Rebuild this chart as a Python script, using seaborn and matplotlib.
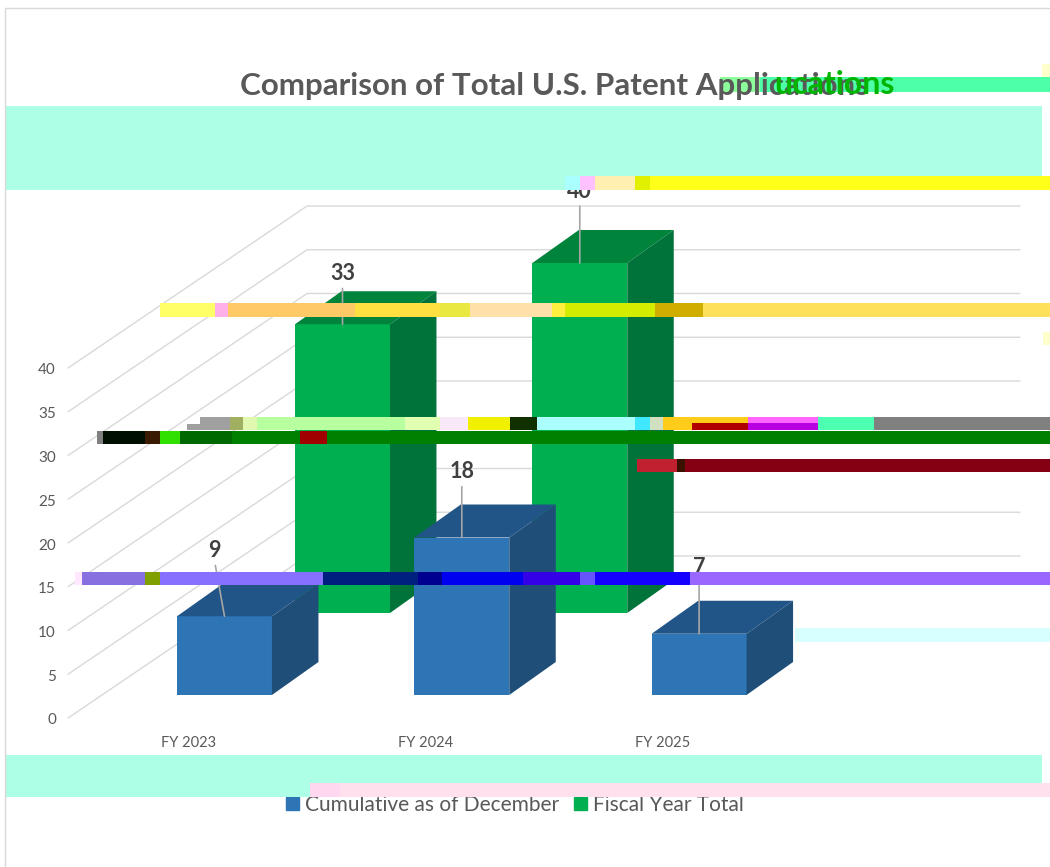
import matplotlib
matplotlib.use('Agg')
import matplotlib.pyplot as plt
from matplotlib.patches import Patch, Polygon, Rectangle
import pandas as pd
import seaborn as sns

years = ['FY 2023', 'FY 2024', 'FY 2025']
cumulative = [9, 18, 7]
fiscal_total = [33, 40]
fiscal_years = ['FY 2023', 'FY 2024']
value_ticks = [0, 5, 10, 15, 20, 25, 30, 35, 40]

W, H = 1050, 867
CAT_PX = 237.3   # px between categories
VAL_PX = 8.75    # px per unit
DEPTH_X, DEPTH_Y = 46.5, 33

# scrambled bands across the page: x0, x1, y0, y1, colour
bands = [
    (5, 1042, 106, 190, '#ADFFE6'),
    (1042, 1050, 64, 77, '#FFFFCC'), (1043, 1050, 332, 345, '#FFFFCC'),
    (720, 760, 77, 92, '#8CFF9A'), (760, 1050, 77, 92, '#4DFFA6'),
    (565, 580, 176, 190, '#AAFFFF'), (580, 595, 176, 190, '#FFC0FF'), (595, 635, 176, 190, '#FFEFB0'),
    (635, 650, 176, 190, '#E0F000'), (650, 1050, 176, 190, '#FFFF1A'),
    (160, 215, 303, 317, '#FFFF66'), (215, 228, 303, 317, '#FFB0E8'), (228, 355, 303, 317, '#FFC966'),
    (355, 440, 303, 317, '#FFE040'), (440, 470, 303, 317, '#E8E840'), (470, 552, 303, 317, '#FFE0A8'),
    (552, 565, 303, 317, '#FFF040'), (565, 655, 303, 317, '#D4EC00'), (655, 703, 303, 317, '#CFAE00'),
    (703, 1050, 303, 317, '#FFE05A'),
    (187, 200, 424, 430, '#A0A0A0'), (200, 230, 417, 430, '#A0A0A0'), (230, 243, 417, 430, '#A0B060'),
    (243, 257, 417, 430, '#E0F8B0'), (257, 405, 417, 430, '#B8FFA0'), (405, 440, 417, 430, '#E0FFB0'),
    (440, 468, 417, 430, '#F8E8F8'), (468, 510, 417, 430, '#F0F000'), (510, 537, 417, 430, '#103000'),
    (537, 635, 417, 430, '#AAFFFF'), (635, 650, 417, 430, '#40E8FF'), (650, 663, 417, 430, '#D0E0C0'),
    (663, 748, 417, 430, '#FFCC1A'), (692, 748, 423, 430, '#B00000'), (748, 818, 417, 430, '#FF66FF'),
    (748, 818, 423, 430, '#B800E0'), (818, 874, 417, 430, '#4DFFB0'), (874, 1050, 417, 430, '#808080'),
    (97, 105, 431, 444, '#808080'), (103, 145, 431, 444, '#001000'), (145, 160, 431, 444, '#3A1A00'),
    (160, 180, 431, 444, '#30E000'), (180, 232, 431, 444, '#006800'), (232, 1050, 431, 444, '#008000'),
    (300, 327, 431, 444, '#A00000'),
    (637, 677, 459, 472, '#C02030'), (677, 685, 459, 472, '#3A1000'), (685, 1050, 459, 472, '#850012'),
    (75, 90, 572, 585, '#FFE8FF'), (82, 145, 572, 585, '#8870E0'), (145, 160, 572, 585, '#80A000'),
    (160, 323, 572, 585, '#8870FF'), (323, 418, 572, 585, '#002080'), (418, 442, 572, 585, '#000090'),
    (442, 523, 572, 585, '#0000F0'), (523, 580, 572, 585, '#3300E8'), (580, 595, 572, 585, '#6655FF'),
    (595, 690, 572, 585, '#1500FF'), (690, 1050, 572, 585, '#9966FF'),
    (795, 1050, 628, 642, '#D8FFFF'),
    (5, 1042, 755, 783, '#ADFFE6'), (5, 310, 783, 797, '#ADFFE6'), (310, 340, 783, 797, '#FFD8F0'),
    (340, 1050, 783, 797, '#FFE0EC'),
]

sns.set_theme(style='white')
plt.rcParams['font.family'] = ['Lato', 'DejaVu Sans']

fig = plt.figure(figsize=(W / 100, H / 100), dpi=100)


def layer(x0, y0):
    """full page axes: category 0 centred on x0, value 0 on y0"""
    ax = fig.add_axes([0, 0, 1, 1])
    ax.patch.set_alpha(0)
    ax.set_axis_off()
    return ax, ((0 - x0) / CAT_PX, (W - x0) / CAT_PX), ((y0 - H) / VAL_PX, y0 / VAL_PX)


def fix_limits(ax, xlim, ylim):
    ax.set_xlim(*xlim)
    ax.set_ylim(*ylim)


def draw_bars(ax, cats, values, front, top, side, z):
    data = pd.DataFrame({'year': cats, 'value': values})
    sns.barplot(data=data, x='year', y='value', color=front, saturation=1, width=0.4, linewidth=0, ax=ax, zorder=z)
    ax.set_axis_off()
    dx = DEPTH_X / CAT_PX
    dy = DEPTH_Y / VAL_PX
    for bar in list(ax.patches):
        x0, x1 = bar.get_x(), bar.get_x() + bar.get_width()
        v = bar.get_height()
        ax.add_patch(Polygon([(x0, v), (x1, v), (x1 + dx, v + dy), (x0 + dx, v + dy)], color=top, lw=0, zorder=z))
        ax.add_patch(Polygon([(x1, 0), (x1 + dx, dy), (x1 + dx, v + dy), (x1, v)], color=side, lw=0, zorder=z))


# walls and floor
wall, xlim, ylim = layer(224.5, 718)
fix_limits(wall, xlim, ylim)
left = (68 - 224.5) / CAT_PX
corner = (307 - 224.5) / CAT_PX
end = (1020 - 224.5) / CAT_PX
rise = (718 - 556) / VAL_PX
for v in value_ticks:
    wall.plot([left, corner, end], [v, v + rise, v + rise], color='#D9D9D9', lw=1.0)
    wall.text(left - 12 / CAT_PX, v - 2.5 / VAL_PX, str(v), ha='right', va='center', fontsize=11, color='#595959')

# back row
back, xlim, ylim = layer(342.5, 613)
draw_bars(back, fiscal_years, fiscal_total, '#00B050', '#00843C', '#00733A', 2)
fix_limits(back, xlim, ylim)

# front row
ax, xlim, ylim = layer(224.5, 695)
draw_bars(ax, years, cumulative, '#2E75B6', '#215587', '#1F4E79', 3)
fix_limits(ax, xlim, ylim)

for i, name in enumerate(years):
    ax.text(i - 36 / CAT_PX, -48 / VAL_PX, name, ha='center', va='center', fontsize=10.5, color='#595959')


def value_label(a, i, v, off_x, off_y):
    a.annotate(str(v), xy=(i, v), xytext=(off_x, off_y), textcoords='offset pixels', ha='center', va='center',
               fontsize=15.5, fontweight='bold', color='#404040', zorder=6,
               arrowprops=dict(arrowstyle='-', color='#A6A6A6', lw=1.2, shrinkA=1, shrinkB=0, relpos=(0.5, 0)))


for i, v in enumerate(cumulative):
    value_label(ax, i, v, -10 if i == 0 else 0, 66)
value_label(back, 0, fiscal_total[0], 0, 51)
value_label(back, 1, fiscal_total[1], 0, 72)

ax.legend(handles=[Patch(color='#2E75B6', label='Cumulative as of December'),
                   Patch(color='#00B050', label='Fiscal Year Total')],
          ncol=2, frameon=False, fontsize=15, labelcolor='#595959', handlelength=0.62, handleheight=0.62,
          handletextpad=0.29, columnspacing=0.72, loc='center', bbox_to_anchor=(515 / W, 1 - 805 / H))

# page frame, title and bands in pixel coordinates
page = fig.add_axes([0, 0, 1, 1])
page.patch.set_alpha(0)
page.set_axis_off()
page.set_xlim(0, W)
page.set_ylim(H, 0)
page.plot([5, 5, W], [H, 8, 8], color='#D9D9D9', lw=1.0)
page.text(554, 86, 'Comparison of Total U.S. Patent Applications', ha='center', va='center',
          fontsize=22.6, fontweight='bold', color='#595959')
for x0, x1, y0, y1, colour in bands:
    page.add_patch(Rectangle((x0, y0), x1 - x0, y1 - y0, color=colour, lw=0))
page.text(895, 84, 'ucations', ha='right', va='center', fontsize=23, fontweight='bold', color='#00B400')

fig.savefig('out.png', dpi=100)
